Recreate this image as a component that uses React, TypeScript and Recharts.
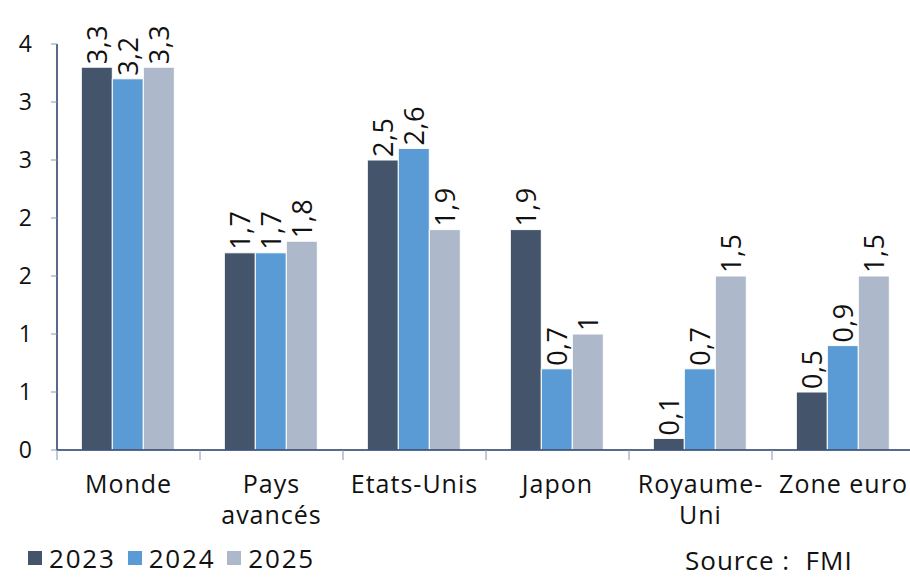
import { Bar, BarChart, LabelList, Legend, XAxis, YAxis } from "recharts";

const categories = ["Monde", "Pays avancés", "Etats-Unis", "Japon", "Royaume-Uni", "Zone euro"];
const categoryLines = [["Monde"], ["Pays", "avancés"], ["Etats-Unis"], ["Japon"], ["Royaume-", "Uni"], ["Zone euro"]];
const values2023 = [3.3, 1.7, 2.5, 1.9, 0.1, 0.5];
const values2024 = [3.2, 1.7, 2.6, 0.7, 0.7, 0.9];
const values2025 = [3.3, 1.8, 1.9, 1, 1.5, 1.5];
const yTicks = [0, 0.5, 1, 1.5, 2, 2.5, 3, 3.5];

const series = [
  { key: "2023", color: "#44546A" },
  { key: "2024", color: "#5B9BD5" },
  { key: "2025", color: "#ADB9CA" },
];

const data = categories.map((name, i) => ({
  name,
  "2023": values2023[i],
  "2024": values2024[i],
  "2025": values2025[i],
}));

const FONT = "'Open Sans', 'Noto Sans', sans-serif";
const AXIS = "#1F3864";
const TICK = "#8497B0";

const fmt = (v: number) => String(v).replace(".", ",");

const XTick = (props: any) => {
  const { x, y, payload } = props;
  const lines = categoryLines[categories.indexOf(payload.value)] || [payload.value];
  const bx = x - (payload.offset || 0);
  return (
    <g>
      <line x1={bx} x2={bx} y1={y} y2={y + 10} stroke={TICK} strokeWidth={1} />
      <text x={x} y={y + 43} textAnchor="middle" fontSize={25} letterSpacing={1} fontFamily={FONT} fill="#111">
        {lines.map((l: string, i: number) => (
          <tspan key={i} x={x} dy={i === 0 ? 0 : 31}>
            {l}
          </tspan>
        ))}
      </text>
    </g>
  );
};

const renderBarLabel = (props: any) => {
  const { x, y, width, value } = props;
  const cx = x + width / 2;
  const ty = y - 3;
  return (
    <text
      x={cx}
      y={ty}
      transform={`rotate(-90 ${cx} ${ty})`}
      textAnchor="start"
      dominantBaseline="central"
      fontSize={27}
      letterSpacing={0.5}
      fontFamily={FONT}
      fill="#111"
    >
      {fmt(value)}
    </text>
  );
};

const renderLegend = () => (
  <div style={{ position: "relative", height: 40, fontFamily: FONT, fontSize: 26, letterSpacing: 1.8, color: "#111" }}>
    <div style={{ position: "absolute", left: 28, top: 2, display: "flex", alignItems: "center" }}>
      {series.map((s) => (
        <div key={s.key} style={{ display: "flex", alignItems: "center", marginRight: 12 }}>
          <span style={{ width: 14, height: 14, background: s.color, display: "inline-block", marginRight: 7 }} />
          <span>{s.key}</span>
        </div>
      ))}
    </div>
    <div style={{ position: "absolute", left: 685, top: 9, lineHeight: "26px", whiteSpace: "pre", letterSpacing: 1 }}>
      Source :  FMI
    </div>
  </div>
);

export default function App() {
  return (
    <div style={{ position: "fixed", left: 0, top: 0, width: 910, height: 578, overflow: "hidden", background: "#fff" }}>
      <BarChart
        width={918}
        height={578}
        data={data}
        margin={{ top: 44, right: 3, left: 0, bottom: 0 }}
        barCategoryGap="17%"
        barGap={0}
      >
        <XAxis
          dataKey="name"
          height={88}
          interval={0}
          tickSize={0}
          tickMargin={0}
          tick={<XTick />}
          axisLine={{ stroke: AXIS, strokeWidth: 1.5 }}
          tickLine={false}
        />
        <YAxis
          width={57}
          domain={[0, 3.5]}
          ticks={yTicks}
          tickFormatter={(v: number) => String(Math.round(v))}
          tickSize={6}
          tickMargin={19}
          axisLine={{ stroke: AXIS, strokeWidth: 1.5 }}
          tickLine={{ stroke: TICK }}
          tick={{ fontSize: 23, fontFamily: FONT, fill: "#111" }}
        />
        <Legend verticalAlign="bottom" align="left" content={renderLegend} />
        {series.map((s) => (
          <Bar key={s.key} dataKey={s.key} fill={s.color} stroke="#fff" strokeWidth={1} isAnimationActive={false}>
            <LabelList dataKey={s.key} content={renderBarLabel} />
          </Bar>
        ))}
      </BarChart>
    </div>
  );
}
